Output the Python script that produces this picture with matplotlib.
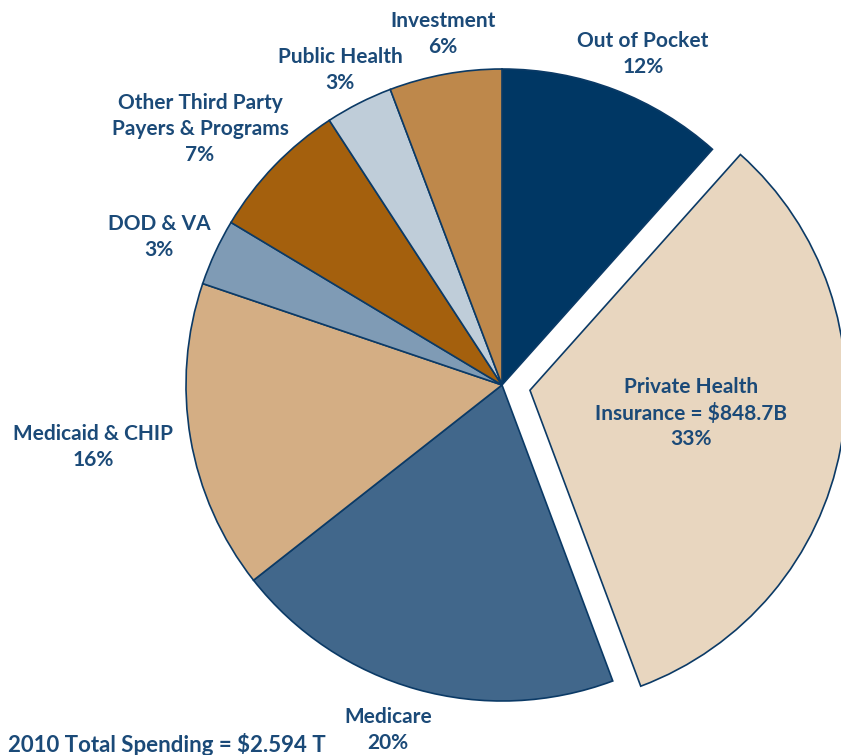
import matplotlib
matplotlib.use("Agg")
import matplotlib.pyplot as plt

categories = ["Out of Pocket", "Private Health\nInsurance = $848.7B", "Medicare",
              "Medicaid & CHIP", "DOD & VA", "Other Third Party\nPayers & Programs",
              "Public Health", "Investment"]
values = [11.6, 32.7, 20.1, 15.8, 3.4, 7.2, 3.45, 5.75]
colors = ["#003764", "#E8D6BF", "#41678B", "#D4AE84", "#7F9BB5", "#A4600D",
          "#BFCDD9", "#BE884B"]
explode_frac = [0, 0.09, 0, 0, 0, 0, 0, 0]
title_text = "2010 Total Spending = $2.594 T"

W, H = 841, 755
R = 316
TXT = "#1B4A78"
plt.rcParams['font.family'] = ['Lato', 'DejaVu Sans']

fig = plt.figure(figsize=(W / 100, H / 100), dpi=100)
ax = fig.add_axes([0, 0, 1, 1])
ax.pie(values, colors=colors, explode=[e * R for e in explode_frac],
       startangle=90, counterclock=False, normalize=True,
       center=(502, H - 385), radius=R,
       wedgeprops=dict(edgecolor="#0B3A66", linewidth=1.2))
ax.set_xlim(0, W)
ax.set_ylim(0, H)
ax.set_aspect('equal')
ax.axis('off')

# label positions in pixel coords (x, y from top)
label_pos = [(643, 54), (691, 413), (388, 730), (93, 447), (159, 237),
             (200, 129), (340, 70), (443, 34)]
for cat, v, (x, y) in zip(categories, values, label_pos):
    ax.text(x, H - y, f"{cat}\n{round(v)}%", ha='center', va='center', color=TXT,
            fontsize=15, fontweight='bold', linespacing=1.35)

ax.text(8, H - 744, title_text, ha='left', va='center', color=TXT,
        fontsize=16, fontweight='bold')

fig.savefig("out.png", dpi=100)
